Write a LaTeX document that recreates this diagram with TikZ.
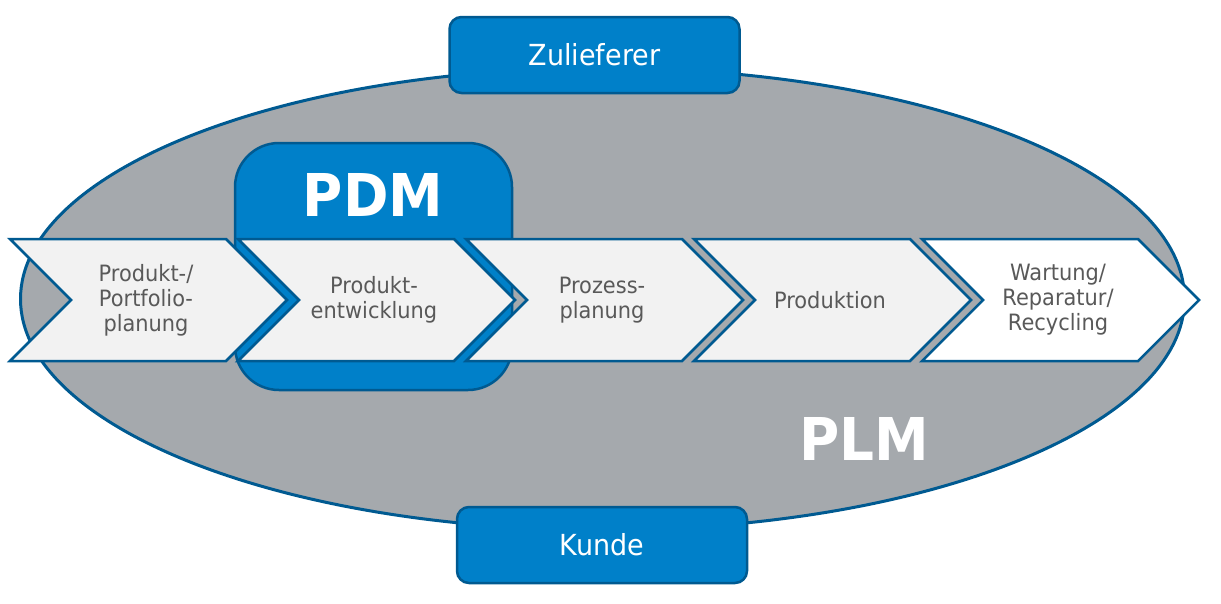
\documentclass[tikz,border=0pt]{standalone}
\usepackage{fontspec}
\setmainfont[FakeStretch=0.93]{DejaVu Sans}
\usetikzlibrary{positioning}
\definecolor{plmGray}{RGB}{165,169,173}
\definecolor{boxBlue}{RGB}{0,128,201}
\definecolor{lineBlue}{RGB}{0,90,145}
\definecolor{stepGray}{RGB}{242,242,242}
\definecolor{textGray}{RGB}{89,89,89}
\tikzstyle{plan} = [x = 1pt, y = -1pt]
\tikzstyle{plmEllipse} = [fill=plmGray, draw=lineBlue, line width=3pt]
\tikzstyle{partnerBox} = [fill=boxBlue, draw=lineBlue, line width=2.5pt, rounded corners=12pt, minimum width=290pt, minimum height=76pt, text=white, font=\fontsize{29}{34}\selectfont]
\tikzstyle{pdmBoxStyle} = [fill=boxBlue, draw=lineBlue, line width=2.5pt, rounded corners=44pt, minimum width=277pt, minimum height=247pt]
\tikzstyle{bigLabel} = [text=white, font=\fontsize{59}{62}\selectfont\bfseries, inner sep=0pt]
\tikzstyle{chevronStyle} = [draw=lineBlue, line width=2.5pt, line join=miter]
\tikzstyle{chevronText} = [text=textGray, align=center, font=\fontsize{22.5}{25}\selectfont, inner sep=0pt]
\newcommand{\processStep}[4]{\filldraw [chevronStyle, fill=#2] (#1, 239) -- ++(216, 0) -- ++(61, 61) -- ++(-61, 61) -- ++(-216, 0) -- ++(61, -61) -- cycle;
  \node [chevronText] (#3) at (#1 + 136, 300) {#4};}

\begin{document}
\begin{tikzpicture}[plan]
  \useasboundingbox (0, 0) rectangle (1221, 603);
  \filldraw [plmEllipse] (602.5, 299) ellipse [x radius = 582pt, y radius = 231pt];
  \node [partnerBox] (zulieferer) at (594.5, 55) {Zulieferer};
  \node [partnerBox] (kunde) at (602, 545) {Kunde};
  \node [pdmBoxStyle] (pdmBox) at (373.5, 266.5) {};
  \node [bigLabel] (pdm) at (373, 195) {PDM};
  \node [bigLabel] (plm) at (864, 439) {PLM};

  \processStep{10}{stepGray}{portfolio}{Produkt-/\\Portfolio-\\planung}
  \processStep{238}{stepGray}{entwicklung}{Produkt-\\entwicklung}
  \processStep{466}{stepGray}{prozess}{Prozess-\\planung}
  \processStep{694}{stepGray}{produktion}{Produktion}
  \processStep{922}{white}{wartung}{Wartung/\\Reparatur/\\Recycling}
\end{tikzpicture}
\end{document}
